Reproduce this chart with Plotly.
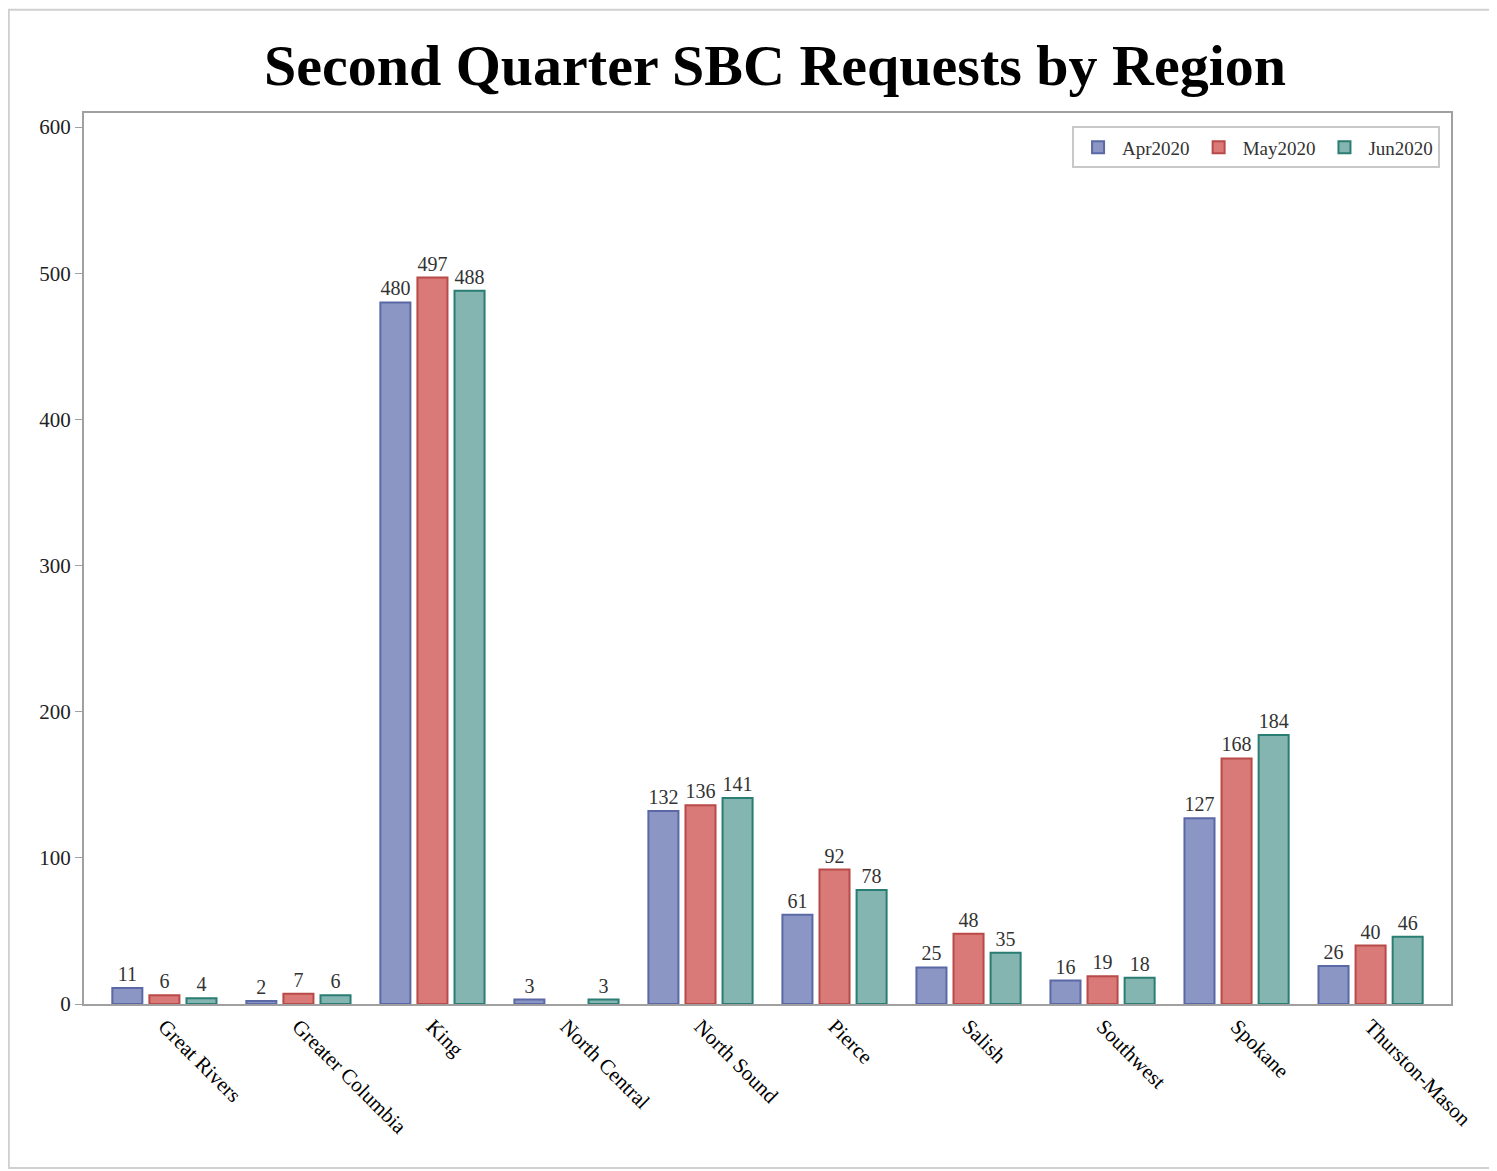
import plotly.graph_objects as go

regions = ["Great Rivers", "Greater Columbia", "King", "North Central", "North Sound",
           "Pierce", "Salish", "Southwest", "Spokane", "Thurston-Mason"]
apr2020 = [11, 2, 480, 3, 132, 61, 25, 16, 127, 26]
may2020 = [6, 7, 497, None, 136, 92, 48, 19, 168, 40]
jun2020 = [4, 6, 488, 3, 141, 78, 35, 18, 184, 46]
series_names = ["Apr2020", "May2020", "Jun2020"]
y_ticks = [0, 100, 200, 300, 400, 500, 600]

FONT = "Liberation Serif, Times New Roman, serif"
fills = ["#8b96c4", "#d97a78", "#85b5b0"]
lines = ["#5a68a6", "#b84a48", "#2a7d72"]

fig = go.Figure()
for name, vals, fc, lc in zip(series_names, [apr2020, may2020, jun2020], fills, lines):
    fig.add_trace(go.Bar(
        x=regions, y=vals, name=name,
        marker=dict(color=fc, line=dict(color=lc, width=2)),
        text=[("" if v is None else str(v)) for v in vals],
        textposition="outside", cliponaxis=False,
        textfont=dict(family=FONT, size=20, color="#333333"),
    ))

fig.update_layout(
    width=1489, height=1163,
    margin=dict(l=76, r=46, t=105, b=167),
    paper_bgcolor="white", plot_bgcolor="white",
    barmode="group", bargap=0.17, bargroupgap=0.19,
    title=dict(text="<b>Second Quarter SBC Requests by Region</b>",
               font=dict(family=FONT, size=58, color="black"),
               x=0.5055, xref="paper", xanchor="center", y=0.951, yanchor="middle"),
    font=dict(family=FONT, color="#333333"),
    legend=dict(orientation="h", x=0.992, xanchor="right", y=0.985, yanchor="top",
                bordercolor="#c8c8c8", borderwidth=2, bgcolor="white",
                font=dict(family=FONT, size=19, color="#333333"),
                itemwidth=38, traceorder="normal"),
    showlegend=True,
)
fig.update_xaxes(
    type="category", range=[-0.6, 9.6], tickangle=45,
    showline=True, linecolor="#a0a0a0", linewidth=2, mirror=True,
    ticks="", showgrid=False,
    tickfont=dict(family=FONT, size=21, color="black"),
)
fig.update_yaxes(
    range=[0, 609.6], tickvals=y_ticks, showgrid=False, zeroline=False,
    showline=True, linecolor="#a0a0a0", linewidth=2, mirror=True,
    ticks="outside", ticklen=7, tickcolor="#a0a0a0", tickwidth=1,
    tickfont=dict(family=FONT, size=21, color="#222222"),
)
fig.add_shape(type="rect", xref="paper", yref="paper",
              x0=-0.0550, x1=1.030, y0=-0.184, y1=1.116,
              line=dict(color="#d0d0d0", width=2), fillcolor="rgba(0,0,0,0)", layer="below")

fig.write_html("out.html")
